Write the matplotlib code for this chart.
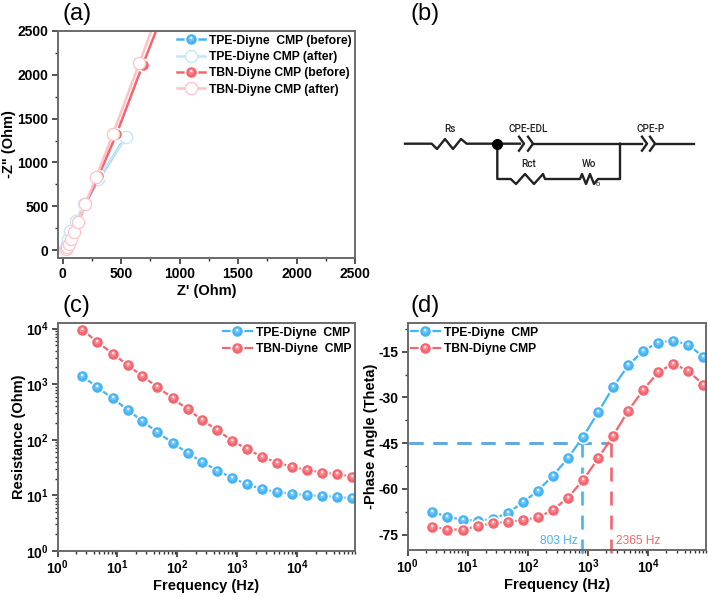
import matplotlib
matplotlib.use('Agg')
import matplotlib.pyplot as plt
from matplotlib.legend_handler import HandlerTuple
from matplotlib.path import Path
from matplotlib.ticker import MultipleLocator, LogLocator, NullFormatter

plt.rcParams['font.family'] = ['Liberation Sans', 'DejaVu Sans']
plt.rcParams['font.weight'] = 'bold'
plt.rcParams['axes.labelweight'] = 'bold'
plt.rcParams['axes.unicode_minus'] = False
plt.rcParams['mathtext.fontset'] = 'custom'
plt.rcParams['mathtext.bf'] = 'Liberation Sans:bold'

# Nyquist data (a), last point of TBN runs is above the axis limit
tpe_before_x = [20, 24, 30, 38, 50, 71, 117, 188, 316, 535]
tpe_before_y = [3, 12, 30, 62, 122, 209, 323, 524, 817, 1284]
tpe_after_x = [18, 22, 28, 36, 48, 68, 112, 185, 307, 543]
tpe_after_y = [3, 14, 33, 68, 128, 215, 330, 530, 809, 1292]
tbn_before_x = [28, 38, 55, 75, 98, 136, 195, 307, 461, 685, 1050]
tbn_before_y = [6, 28, 62, 126, 203, 320, 518, 843, 1322, 2112, 3350]
tbn_after_x = [26, 37, 54, 74, 97, 134, 193, 287, 432, 657, 1000]
tbn_after_y = [8, 30, 65, 129, 205, 323, 520, 828, 1330, 2135, 3370]

# Bode data (c, d)
freq = [2.6, 4.6, 8.3, 14.7, 26, 46, 83, 147, 261, 464, 825, 1467, 2610,
        4640, 8250, 14670, 26100, 46400, 82500]
tpe_res = [1390, 880, 555, 347, 217, 137, 88, 58, 39.6, 28, 20.4, 15.7, 12.9,
           11.4, 10.6, 10.1, 9.7, 9.4, 8.8]
tbn_res = [9460, 5750, 3540, 2210, 1400, 890, 563, 352, 226, 147, 96, 67, 49,
           38.5, 32.6, 28.4, 25.8, 24, 21.8]
tpe_phase = [-67.5, -69.1, -70.1, -70.4, -69.8, -67.9, -64.4, -60.5, -55.6, -49.9,
             -42.9, -34.9, -26.6, -19.5, -14.7, -12, -11.4, -12.7, -16.8]
tbn_phase = [-72.3, -73.3, -73.3, -72.2, -71.2, -70.8, -70.2, -69.3, -66.9, -62.8,
             -57.1, -50, -42.5, -34.4, -27.5, -21.7, -18.9, -21.4, -25.8]
tpe_f45 = 803
tbn_f45 = 2365

# circuit (b), figure pixels
wire_rs = ([405, 431.7, 437, 445, 453, 461, 466.7, 497.3, 520], [143.7, 143.7, 149, 139, 149, 139, 143.7, 143.7, 143.7])
wire_top = ([533, 642], [143.7, 143.7])
wire_end = ([656, 693.5], [143.7, 143.7])
wire_low = ([497.3, 497.3, 510.7, 516, 525, 534, 543, 545, 580, 582, 586, 590, 594, 598, 620, 620],
            [143.7, 179, 179, 184, 174, 184, 174, 179, 179, 174, 184, 174, 184, 179, 179, 143.7])
chevrons = [(519, 143.7), (528, 143.7), (642, 143.7), (650, 143.7)]
circuit_labels = [('Rs', 449.5, 129), ('CPE-EDL', 528, 129), ('CPE-P', 651, 129),
                  ('Rct', 528.5, 164), ('Wo', 589, 164)]

BLUE = '#45b4f5'
RED = '#f4656e'
BLUE_L = '#bfe6fb'
RED_L = '#ffc2c6'
W, H = 708, 597
DASH = (5.3, 3.8)


def make_axes(left, right, top, bottom):
    ax = fig.add_axes([left / W, 1 - bottom / H, (right - left) / W, (bottom - top) / H])
    for s in ax.spines.values():
        s.set_color('#6a6a6a')
        s.set_linewidth(1.4)
    ax.tick_params(which='major', direction='out', length=4.5, width=1.2, labelsize=10,
                   pad=2, color='#333333', top=False, right=False)
    ax.tick_params(which='minor', direction='out', length=2.5, width=1, color='#333333',
                   top=False, right=False)
    return ax


def spot(cx, cy, r):
    # marker path that keeps its offset inside the marker box
    circle = Path.circle((cx, cy), r)
    return Path.make_compound_path(circle, Path([[1, 1]], [Path.MOVETO]))


def sphere(ax, x, y, color, lw=1.6, ms=8.8):
    line, = ax.plot(x, y, '-', color=color, lw=lw, marker='o', ms=ms, mfc=color,
                    mec='white', mew=1.2)
    mid, = ax.plot(x, y, ls='', marker=spot(-0.05, 0.12, 0.45), ms=ms, mfc='white',
                   mec='none', alpha=0.25)
    top, = ax.plot(x, y, ls='', marker=spot(-0.05, 0.25, 0.2), ms=ms, mfc='white',
                   mec='none', alpha=0.8)
    return (line, mid, top)


def hollow(ax, x, y, color, ms=8.8):
    line, = ax.plot(x, y, '-', color=color, lw=1.8, marker='o', ms=ms, mfc='white',
                    mec=color, mew=0.9)
    return line


def log_labels(ax):
    ax.set_xscale('log')
    ax.set_xticks([1, 10, 100, 1000, 10000])
    ax.set_xticklabels([r'$\mathbf{10^{%d}}$' % i for i in range(5)])
    ax.xaxis.set_minor_locator(LogLocator(base=10, subs=range(2, 10), numticks=12))
    ax.xaxis.set_minor_formatter(NullFormatter())
    ax.set_xlim(1, 91000)
    ax.tick_params(axis='x', which='major', pad=0.5)
    ax.set_xlabel('Frequency (Hz)', fontsize=10.5, labelpad=2)


def add_legend(ax, handles, labels, anchor):
    ax.legend(handles, labels, handler_map={tuple: HandlerTuple(ndivide=1, pad=0)},
              loc='upper left', bbox_to_anchor=anchor, frameon=False, fontsize=8.7,
              handlelength=2.35, handletextpad=0.35, labelspacing=0.36, borderpad=0.3,
              borderaxespad=0)


fig = plt.figure(figsize=(W / 100, H / 100), dpi=100)

# (a)
ax = make_axes(57.5, 355, 31, 258)
h1 = sphere(ax, tpe_before_x, tpe_before_y, BLUE, lw=1.8)
h2 = hollow(ax, tpe_after_x, tpe_after_y, BLUE_L)
h3 = sphere(ax, tbn_before_x, tbn_before_y, RED, lw=1.8)
h4 = hollow(ax, tbn_after_x, tbn_after_y, RED_L)
ax.set_xlim(-43, 2500)
ax.set_ylim(-91, 2500)
ax.set_xticks([0, 500, 1000, 1500, 2000, 2500])
ax.set_yticks([0, 500, 1000, 1500, 2000, 2500])
ax.xaxis.set_minor_locator(MultipleLocator(250))
ax.yaxis.set_minor_locator(MultipleLocator(250))
ax.set_xlabel("Z' (Ohm)", fontsize=10.5, labelpad=2)
ax.set_ylabel('-Z" (Ohm)', fontsize=10.5, labelpad=1)
add_legend(ax, [h1, h2, h3, h4],
           ['TPE-Diyne  CMP (before)', 'TPE-Diyne CMP (after)', 'TBN-Diyne CMP (before)', 'TBN-Diyne CMP (after)'],
           (0.388, 1.0))

# (b)
ax = fig.add_axes([0, 0, 1, 1], facecolor='none', zorder=-1)
ax.set_xlim(0, W)
ax.set_ylim(H, 0)
ax.axis('off')
ax.plot(*wire_rs, color='#222222', lw=1.7)
ax.plot(*wire_top, color='#222222', lw=1.7)
ax.plot(*wire_end, color='#222222', lw=1.7)
ax.plot(*wire_low, color='#222222', lw=1.7)
for cx, cy in chevrons:
    ax.plot([cx, cx + 5, cx], [cy - 7, cy, cy + 7], color='#222222', lw=1.7)
ax.plot([497.3], [143.7], 'o', color='black', ms=7)
for txt, tx, ty in circuit_labels:
    ax.text(tx, ty, txt, ha='center', va='center', fontsize=7.2, weight='medium', color='#222222',
            family='Roboto')
ax.text(598, 185, 'o', ha='center', va='center', fontsize=5.5, weight='normal', color='#222222')

# (c)
ax = make_axes(57.5, 355, 323, 551)
h1 = sphere(ax, freq, tpe_res, BLUE)
h2 = sphere(ax, freq, tbn_res, RED)
ax.set_yscale('log')
log_labels(ax)
ax.set_ylim(1, 10 ** 4.1)
ax.set_yticks([1, 10, 100, 1000, 10000])
ax.set_yticklabels([r'$\mathbf{10^{%d}}$' % i for i in range(5)])
ax.yaxis.set_minor_locator(LogLocator(base=10, subs=range(2, 10), numticks=12))
ax.yaxis.set_minor_formatter(NullFormatter())
ax.set_ylabel('Resistance (Ohm)', fontsize=10.5, labelpad=0)
add_legend(ax, [h1, h2], ['TPE-Diyne  CMP', 'TBN-Diyne  CMP'], (0.545, 1.0))

# (d)
ax = make_axes(407.5, 706, 323, 550)
ax.plot([1.05, tbn_f45], [-45, -45], color=RED, lw=1.9, dashes=DASH)
ax.plot([tbn_f45, tbn_f45], [-45, -81], color=RED, lw=1.9, dashes=DASH, clip_on=False)
ax.plot([1.05, tbn_f45 * 0.8], [-45, -45], color=BLUE, lw=1.9, dashes=DASH)
ax.plot([tpe_f45, tpe_f45], [-45, -81], color=BLUE, lw=1.9, dashes=DASH, clip_on=False)
h1 = sphere(ax, freq, tpe_phase, BLUE)
h2 = sphere(ax, freq, tbn_phase, RED)
log_labels(ax)
ax.set_ylim(-80, -5.6)
ax.set_yticks([-15, -30, -45, -60, -75])
ax.yaxis.set_minor_locator(MultipleLocator(7.5))
ax.set_ylabel('-Phase Angle (Theta)', fontsize=10.5, labelpad=0.5)
ax.text(tpe_f45 * 0.83, -77.2, '%d Hz' % tpe_f45, color=BLUE, fontsize=8.6, ha='right', va='center', weight='normal')
ax.text(tbn_f45 * 1.25, -77.2, '%d Hz' % tbn_f45, color=RED, fontsize=8.6, ha='left', va='center', weight='normal')
add_legend(ax, [h1, h2], ['TPE-Diyne  CMP', 'TBN-Diyne CMP'], (0.0, 1.0))

# panel letters
for txt, px, py in [('(a)', 63, 20), ('(b)', 411, 20), ('(c)', 63, 312), ('(d)', 410, 312)]:
    fig.text(px / W, 1 - py / H, txt, fontsize=17, weight='normal', ha='left', va='baseline')

fig.savefig('out.png', dpi=100)
